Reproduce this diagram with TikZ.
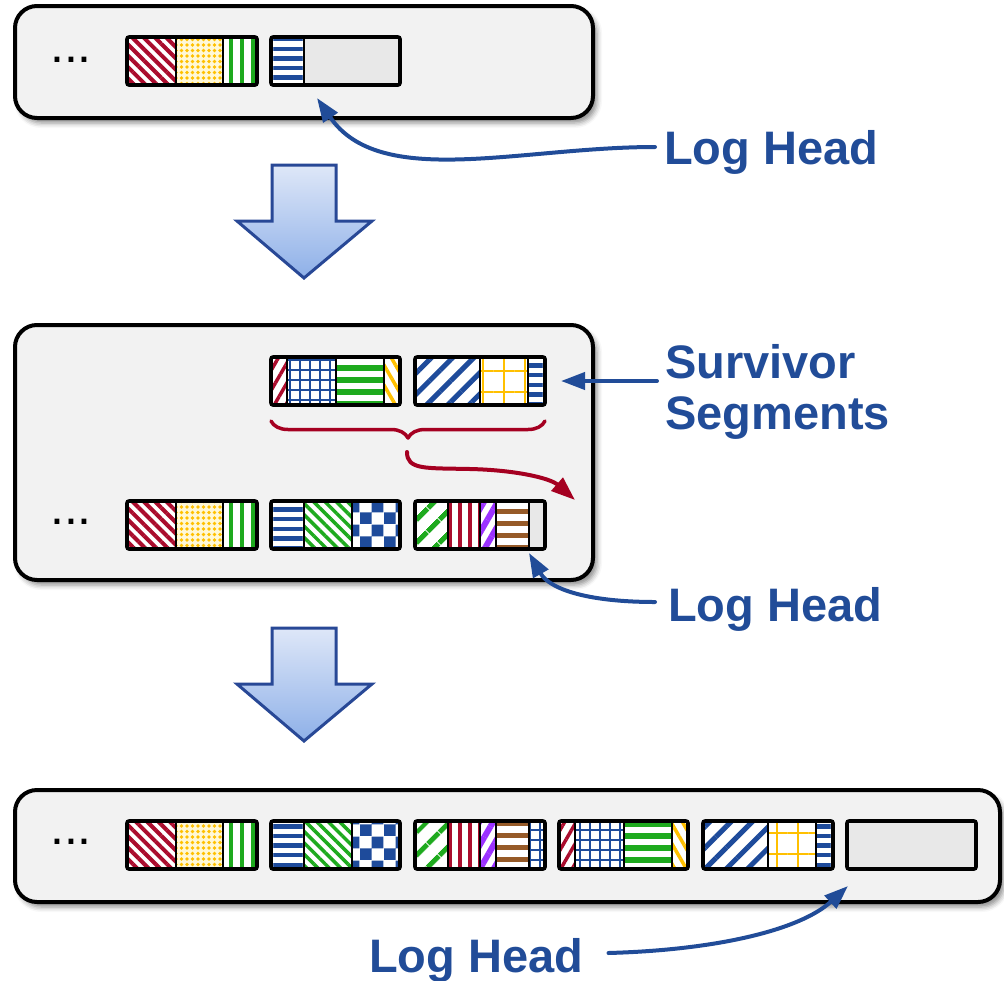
\documentclass[tikz,border=0pt]{standalone}
\usepackage{fontspec}
\setmainfont{Liberation Sans}
\usepackage{xcolor}
\usepackage{tikz}
\usetikzlibrary{positioning,arrows.meta,patterns.meta,decorations.pathreplacing,shadows.blur}

\definecolor{headblue}{RGB}{33,76,152}
\definecolor{bracered}{RGB}{165,0,33}
\definecolor{segred}{RGB}{170,12,45}
\definecolor{seggreen}{RGB}{30,170,30}
\definecolor{segblue}{RGB}{30,75,155}
\definecolor{segyellow}{RGB}{255,192,0}
\definecolor{segcream}{RGB}{255,248,215}
\definecolor{segpurple}{RGB}{155,50,255}
\definecolor{segbrown}{RGB}{150,90,40}
\definecolor{panelgray}{RGB}{242,242,242}
\definecolor{emptygray}{RGB}{232,232,232}
\definecolor{arrowtop}{RGB}{222,231,248}
\definecolor{arrowbot}{RGB}{142,176,232}
\definecolor{arrowedge}{RGB}{40,72,150}

% checkerboard tile for the third block
\pgfdeclarepatternformonly{Checker}{\pgfpointorigin}{\pgfpoint{24pt}{24pt}}{\pgfpoint{24pt}{24pt}}{
  \pgfpathrectangle{\pgfpointorigin}{\pgfpoint{12pt}{12pt}}
  \pgfpathrectangle{\pgfpoint{12pt}{12pt}}{\pgfpoint{12pt}{12pt}}
  \pgfusepath{fill}
}

\begin{document}
\begin{tikzpicture}[x=1pt,y=-1pt, line cap=round, line join=round]
  \useasboundingbox (0,0) rectangle (1004,980);

  % ===== styles =====
  \tikzset{
    panel/.style={draw=black, line width=4pt, fill=panelgray, rounded corners=22pt,
      blur shadow={shadow xshift=4pt, shadow yshift=-5pt, shadow blur radius=5pt, shadow opacity=45}},
    seg/.style={draw=black, line width=2.6pt, line join=miter, preaction={fill=white}},
    segbox/.style={draw=black, line width=3.6pt, rounded corners=2pt},
    emptyfill/.style={fill=emptygray},
    redfall/.style={pattern={Lines[angle=-45,distance=8pt,line width=4pt]}, pattern color=segred},
    yellowdots/.style={preaction={fill=segcream}, pattern={Dots[radius=1.8pt,distance=5.5pt]}, pattern color=segyellow},
    greenvert/.style={pattern={Lines[angle=90,distance=11pt,line width=4.5pt]}, pattern color=seggreen},
    bluehoriz/.style={pattern={Lines[angle=0,distance=9.6pt,line width=4.5pt]}, pattern color=segblue},
    greenfall/.style={pattern={Lines[angle=-45,distance=8pt,line width=3.5pt]}, pattern color=seggreen},
    checker/.style={pattern=Checker, pattern color=segblue},
    greenrise/.style={pattern={Lines[angle=45,distance=17pt,line width=5.5pt]}, pattern color=seggreen},
    redvert/.style={pattern={Lines[angle=90,distance=10pt,line width=4pt]}, pattern color=segred},
    purplerise/.style={pattern={Lines[angle=60,distance=12pt,line width=6pt]}, pattern color=segpurple},
    brownhoriz/.style={pattern={Lines[angle=0,distance=12pt,line width=5pt]}, pattern color=segbrown},
    redrise/.style={pattern={Lines[angle=60,distance=10pt,line width=3.5pt]}, pattern color=segred},
    bluegrid/.style={pattern={Hatch[angle=0,distance=10pt,line width=2pt]}, pattern color=segblue},
    greenhoriz/.style={pattern={Lines[angle=0,distance=12pt,line width=6pt]}, pattern color=seggreen},
    yellowfall/.style={pattern={Lines[angle=-60,distance=10pt,line width=3.5pt]}, pattern color=segyellow},
    bluerise/.style={pattern={Lines[angle=45,distance=15pt,line width=5pt]}, pattern color=segblue},
    yellowgrid/.style={pattern={Hatch[angle=0,distance=21pt,line width=2.5pt]}, pattern color=segyellow},
    downarrow/.style={draw=arrowedge, line width=3pt, line join=miter, top color=arrowtop, bottom color=arrowbot},
    headtext/.style={text=headblue, font=\bfseries\fontsize{47}{51}\selectfont, inner sep=0pt},
    moredots/.style={font=\fontsize{50}{50}\selectfont, inner sep=0pt, anchor=base},
    headarrow/.style={draw=headblue, line width=4pt, -{Triangle[length=24pt,width=17pt]}},
    survarrow/.style={draw=bracered, line width=4pt, -{Triangle[length=24pt,width=17pt]}},
    bracemark/.style={draw=bracered, line width=3.5pt, decorate, decoration={brace, amplitude=17pt, mirror}}
  }

  % ===== three log panels =====
  \draw[panel] (15,6) rectangle (593,118);
  \draw[panel] (15,325) rectangle (593,580);
  \draw[panel] (15,790) rectangle (1000,902);

  \node[moredots] (more1) at (71,62) {...};
  \node[moredots] (more2) at (71,524) {...};
  \node[moredots] (more3) at (71,844) {...};

  % ===== big down arrows =====
  \foreach \y in {0,463}{
    \shade[downarrow] (272,165+\y) -- (336,165+\y) -- (336,221+\y) -- (372,221+\y)
      -- (304,278+\y) -- (237,221+\y) -- (272,221+\y) -- cycle;
  }

  % ===== old segment (all panels) =====
  \foreach \y in {37,501,821}{
    \draw[seg, redfall] (127,\y) rectangle +(49,48);
    \draw[seg, yellowdots] (176,\y) rectangle +(47,48);
    \draw[seg, greenvert] (223,\y) rectangle +(34,48);
    \draw[segbox] (127,\y) rectangle +(130,48);
  }

  % ===== open segment, first panel =====
  \draw[seg, bluehoriz] (271,37) rectangle +(33,48);
  \draw[seg, emptyfill] (304,37) rectangle +(96,48);
  \draw[segbox] (271,37) rectangle +(129,48);

  % ===== filled segment =====
  \foreach \y in {501,821}{
    \draw[seg, bluehoriz] (271,\y) rectangle +(33,48);
    \draw[seg, greenfall] (304,\y) rectangle +(48,48);
    \draw[seg, checker] (352,\y) rectangle +(48,48);
    \draw[segbox] (271,\y) rectangle +(129,48);
  }

  % ===== head segment =====
  \foreach \y/\last in {501/emptyfill,821/bluegrid}{
    \draw[seg, greenrise] (415,\y) rectangle +(33,48);
    \draw[seg, redvert] (448,\y) rectangle +(32,48);
    \draw[seg, purplerise] (480,\y) rectangle +(16,48);
    \draw[seg, brownhoriz] (496,\y) rectangle +(33,48);
    \draw[seg, \last] (529,\y) rectangle +(16,48);
    \draw[segbox] (415,\y) rectangle +(130,48);
  }

  % ===== survivor segments =====
  \foreach \x/\y in {271/357,559/821}{
    \draw[seg, redrise] (\x,\y) rectangle +(16,48);
    \draw[seg, bluegrid] (\x+16,\y) rectangle +(49,48);
    \draw[seg, greenhoriz] (\x+65,\y) rectangle +(48,48);
    \draw[seg, yellowfall] (\x+113,\y) rectangle +(16,48);
    \draw[segbox] (\x,\y) rectangle +(129,48);
  }
  \foreach \x/\y in {415/357,703/821}{
    \draw[seg, bluerise] (\x,\y) rectangle +(65,48);
    \draw[seg, yellowgrid] (\x+65,\y) rectangle +(48,48);
    \draw[seg, bluehoriz] (\x+113,\y) rectangle +(17,48);
    \draw[segbox] (\x,\y) rectangle +(130,48);
  }

  % ===== empty segment, last panel =====
  \draw[seg, emptyfill] (847,821) rectangle +(129,48);
  \draw[segbox] (847,821) rectangle +(129,48);

  % ===== brace + move arrow =====
  \draw[bracemark] (271,421) -- (545,421);
  \coordinate (bracetip) at (407,438);
  \coordinate (gap) at (575,500);
  \draw[survarrow] ([yshift=-14pt]bracetip) .. controls +(0,18) and +(-45,-1) .. ([shift={(63,31)}]bracetip)
    .. controls +(45,1) and +(-25,-22) .. (gap);

  % ===== labels =====
  \node[headtext, anchor=base west] (head1) at (664,164) {Log Head};
  \node[headtext, anchor=base west, align=left] (surv) at (665,429) {Survivor\\Segments};
  \node[headtext, anchor=base west] (head2) at (668,621) {Log Head};
  \node[headtext, anchor=base west] (head3) at (369,972) {Log Head};

  \coordinate (tip1) at (317,98);
  \coordinate (survtip) at (561,381);
  \coordinate (tip2) at (529,553);
  \coordinate (tip3) at (848,886);

  \draw[headarrow] ([xshift=-9pt,yshift=17pt]head1.base west) .. controls +(-135,0) and +(63,92) .. (tip1);
  \draw[headarrow] ([xshift=-8pt]surv.base west |- survtip) -- (survtip);
  \draw[headarrow] ([xshift=-13pt,yshift=19pt]head2.base west) .. controls +(-65,0) and +(21,37) .. (tip2);
  \draw[headarrow] ([xshift=25pt,yshift=19pt]head3.base east) .. controls +(108,-3) and +(-48,44) .. (tip3);
\end{tikzpicture}
\end{document}
